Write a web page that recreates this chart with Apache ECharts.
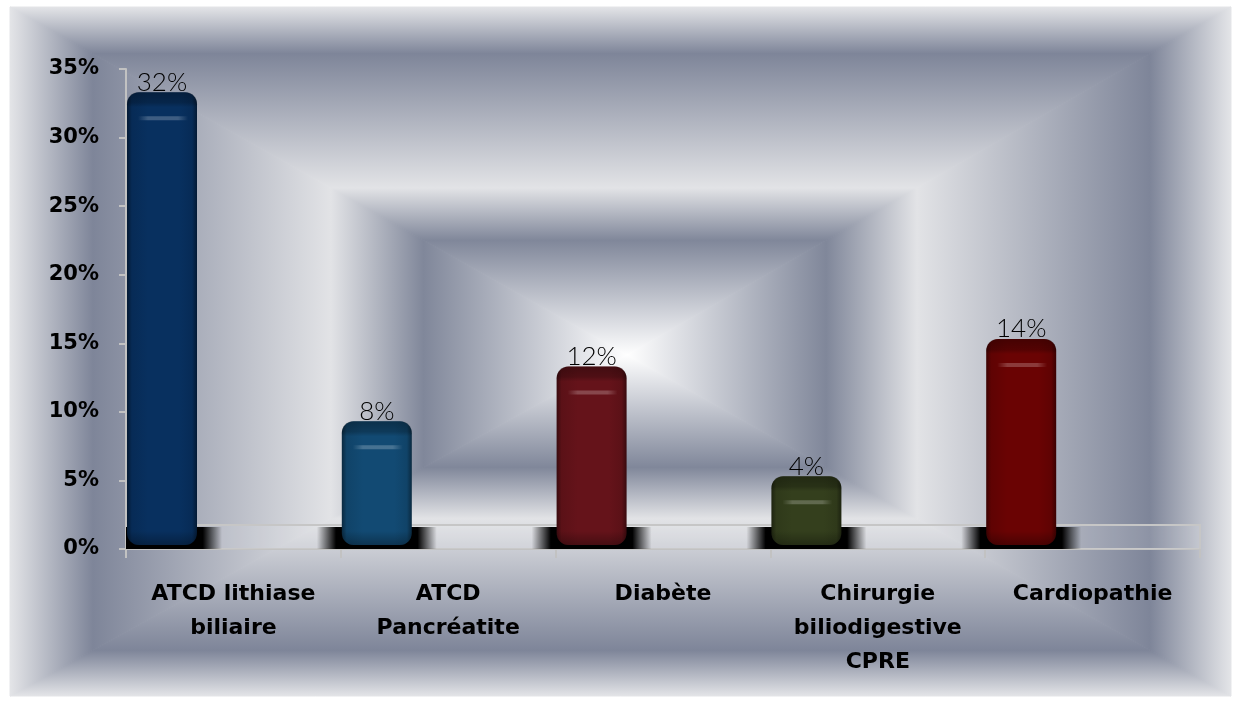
<!DOCTYPE html>
<html>
<head>
<meta charset="utf-8">
<title>Antécédents</title>
<script src="https://cdn.jsdelivr.net/npm/echarts@6/dist/echarts.min.js"></script>
<style>
  html, body { margin: 0; padding: 0; background: #ffffff; }
  #chart { width: 1239px; height: 704px; }
</style>
</head>
<body>
<div id="chart"></div>
<script>
// Categories and their percentages
const categories = [
  'ATCD lithiase\nbiliaire',
  'ATCD\nPancréatite',
  'Diabète',
  'Chirurgie\nbiliodigestive\nCPRE',
  'Cardiopathie'
];
const values = [32, 8, 12, 4, 14];
const barColors = ['#08305f', '#124a73', '#65131a', '#343f1d', '#6a0303'];

// Value axis
const yMin = 0;
const yMax = 35;
const yStep = 5;

// Shift a hex colour toward black (negative) or white (positive)
function shade(hex, amt) {
  const n = parseInt(hex.slice(1), 16);
  let r = (n >> 16) & 255, g = (n >> 8) & 255, b = n & 255;
  const t = amt < 0 ? 0 : 255, p = Math.abs(amt);
  r = Math.round(r + (t - r) * p);
  g = Math.round(g + (t - g) * p);
  b = Math.round(b + (t - b) * p);
  return 'rgb(' + r + ',' + g + ',' + b + ')';
}

// Rectangular "tunnel" backdrop built from four triangles meeting at the centre
const L = 10, R = 1231, T = 7, B = 696, CX = 627, CY = 355;
const ringStops = [
  { offset: 0.00, color: '#e4e5e8' },
  { offset: 0.135, color: '#7e8599' },
  { offset: 0.52, color: '#e2e3e6' },
  { offset: 0.67, color: '#80879a' },
  { offset: 1.00, color: '#ffffff' }
];
function grad(x, y, x2, y2) {
  return { type: 'linear', x: x, y: y, x2: x2, y2: y2, colorStops: ringStops };
}
function tri(points, g) {
  return {
    type: 'polygon', z: -100, silent: true,
    shape: { points: points },
    style: { fill: g, stroke: g, lineWidth: 1 }
  };
}
const backdrop = [
  tri([[L, T], [R, T], [CX, CY]], grad(0, 0, 0, 1)),
  tri([[L, B], [R, B], [CX, CY]], grad(0, 1, 0, 0)),
  tri([[L, T], [L, B], [CX, CY]], grad(0, 0, 1, 0)),
  tri([[R, T], [R, B], [CX, CY]], grad(1, 0, 0, 0))
];

const DEPTH = 22;      // floor depth in pixels
const LIFT = 18;       // front face raised by the perspective
const BAR_W = 70;

function renderFloor(params, api) {
  const cs = params.coordSys;
  const x0 = cs.x, x1 = cs.x + cs.width, yb = cs.y + cs.height, yt = yb - DEPTH - 2;
  return {
    type: 'group',
    children: [
      { type: 'rect', shape: { x: x0, y: yt, width: x1 - x0, height: yb - yt },
        style: { fill: 'rgba(255,255,255,0.12)' } },
      { type: 'polyline', shape: { points: [[x0, yt], [x1, yt], [x1, yb]] },
        style: { stroke: '#c6c6c6', lineWidth: 2, fill: null } }
    ]
  };
}

function renderBar(params, api) {
  const i = api.value(0);
  const v = api.value(1);
  const c = api.coord([i, v]);
  const base = api.coord([i, 0]);
  const band = api.size([1, 0])[0];
  const cs = params.coordSys;
  const x = c[0] - band / 2 + 1;
  const top = c[1] - LIFT;
  const bottom = base[1] - 4;
  const col = barColors[i];

  // shadow cast on the floor
  const sx0 = x - 25, sx1 = x + BAR_W + 25;
  const sxa = Math.max(sx0, cs.x);
  const shadowFill = {
    type: 'linear', global: true, x: sx0, y: 0, x2: sx1, y2: 0,
    colorStops: [
      { offset: 0, color: 'rgba(0,0,0,0)' },
      { offset: 0.16, color: 'rgba(0,0,0,1)' },
      { offset: 0.84, color: 'rgba(0,0,0,1)' },
      { offset: 1, color: 'rgba(0,0,0,0)' }
    ]
  };
  const bodyFill = {
    type: 'linear', x: 0, y: 0, x2: 1, y2: 0,
    colorStops: [
      { offset: 0, color: shade(col, -0.45) },
      { offset: 0.07, color: shade(col, -0.1) },
      { offset: 0.3, color: col },
      { offset: 0.75, color: col },
      { offset: 0.93, color: shade(col, -0.1) },
      { offset: 1, color: shade(col, -0.45) }
    ]
  };
  const capFill = {
    type: 'linear', x: 0, y: 0, x2: 0, y2: 1,
    colorStops: [
      { offset: 0, color: 'rgba(0,0,0,0.35)' },
      { offset: 0.7, color: 'rgba(0,0,0,0.22)' },
      { offset: 1, color: 'rgba(0,0,0,0)' }
    ]
  };
  const footFill = {
    type: 'linear', x: 0, y: 0, x2: 0, y2: 1,
    colorStops: [
      { offset: 0, color: 'rgba(0,0,0,0)' },
      { offset: 1, color: 'rgba(0,0,0,0.3)' }
    ]
  };
  const glossFill = {
    type: 'linear', x: 0, y: 0, x2: 1, y2: 0,
    colorStops: [
      { offset: 0, color: 'rgba(255,255,255,0)' },
      { offset: 0.2, color: 'rgba(255,255,255,0.22)' },
      { offset: 0.8, color: 'rgba(255,255,255,0.22)' },
      { offset: 1, color: 'rgba(255,255,255,0)' }
    ]
  };
  const h = bottom - top;
  return {
    type: 'group',
    children: [
      { type: 'rect', shape: { x: sxa, y: base[1] - DEPTH, width: sx1 - sxa, height: DEPTH },
        style: { fill: shadowFill } },
      { type: 'rect', shape: { x: x, y: top, width: BAR_W, height: h, r: 12 },
        style: { fill: bodyFill } },
      { type: 'rect', shape: { x: x, y: top, width: BAR_W, height: 15, r: [12, 12, 4, 4] },
        style: { fill: capFill } },
      { type: 'rect', shape: { x: x, y: bottom - 14, width: BAR_W, height: 14, r: [0, 0, 12, 12] },
        style: { fill: footFill } },
      { type: 'rect', shape: { x: x + 11, y: top + 24, width: BAR_W - 20, height: 4 },
        style: { fill: glossFill } },
      { type: 'text', x: x + BAR_W / 2, y: top + 3,
        style: {
          text: v + '%',
          align: 'center', textAlign: 'center',
          verticalAlign: 'bottom', textVerticalAlign: 'bottom',
          font: '300 26px Lato, "DejaVu Sans", sans-serif',
          fill: '#000000'
        } }
    ]
  };
}

const labelFont = { fontFamily: '"DejaVu Sans", sans-serif', fontWeight: 'bold', color: '#000000' };

const chart = echarts.init(document.getElementById('chart'), null, { renderer: 'canvas' });
chart.setOption({
  backgroundColor: '#ffffff',
  animation: false,
  graphic: { elements: backdrop },
  grid: { left: 126, right: 39, top: 69, bottom: 155, containLabel: false },
  xAxis: {
    type: 'category',
    data: categories,
    boundaryGap: true,
    axisLine: { show: true, lineStyle: { color: '#c2c2c2', width: 2 } },
    axisTick: { show: true, length: 9, interval: 0, lineStyle: { color: '#c2c2c2', width: 2 } },
    axisLabel: Object.assign({ interval: 0, fontSize: 22, lineHeight: 34, margin: 28, align: 'center' }, labelFont),
    splitLine: { show: false }
  },
  yAxis: {
    type: 'value',
    min: yMin, max: yMax, interval: yStep,
    axisLine: { show: true, lineStyle: { color: '#c2c2c2', width: 2 } },
    axisTick: { show: true, length: 7, lineStyle: { color: '#c2c2c2', width: 2 } },
    axisLabel: Object.assign({ fontSize: 21, margin: 27, formatter: '{value}%' }, labelFont),
    splitLine: { show: false }
  },
  series: [
    {
      type: 'custom', name: 'floor', z: 1, silent: true,
      renderItem: renderFloor,
      data: [[0, 0]],
      encode: { x: 0, y: 1 }
    },
    {
      type: 'custom', name: 'ATCD', z: 3,
      renderItem: renderBar,
      data: values.map((v, i) => [i, v]),
      encode: { x: 0, y: 1 }
    }
  ]
});
</script>
</body>
</html>
